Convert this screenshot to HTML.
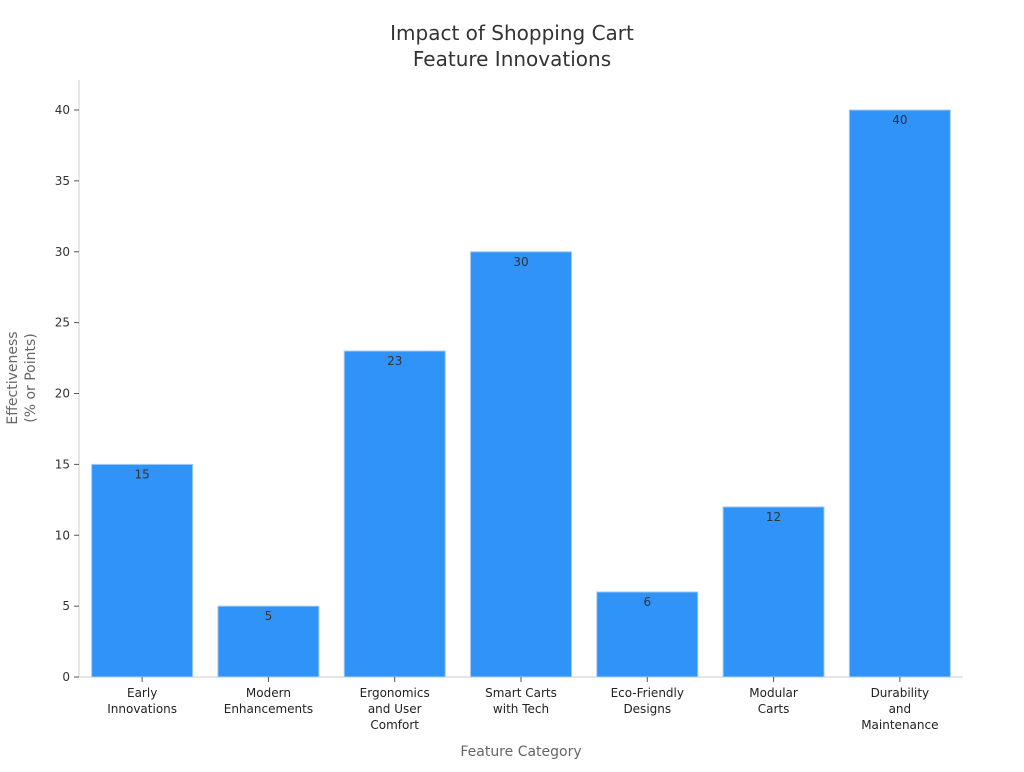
<!DOCTYPE html>
<html><head><meta charset="utf-8"><style>
body{margin:0;background:#fff;font-family:"DejaVu Sans","Liberation Sans",sans-serif;}
svg text{font-family:"DejaVu Sans","Liberation Sans",sans-serif;}
</style></head><body>
<svg id="chart" width="1024" height="768" xmlns="http://www.w3.org/2000/svg">
<text x="512" y="40" text-anchor="middle" font-size="20" fill="#333">Impact of Shopping Cart</text>
<text x="512" y="66" text-anchor="middle" font-size="20" fill="#333">Feature Innovations</text>
<text transform="translate(17,378) rotate(-90)" text-anchor="middle" font-size="14" fill="#666">Effectiveness</text>
<text transform="translate(35,378) rotate(-90)" text-anchor="middle" font-size="14" fill="#666">(% or Points)</text>
<text x="521" y="756" text-anchor="middle" font-size="14" fill="#666">Feature Category</text>
<g id="plot"></g>
</svg>
<script>
const categories=[["Early","Innovations"],["Modern","Enhancements"],["Ergonomics","and User","Comfort"],["Smart Carts","with Tech"],["Eco-Friendly","Designs"],["Modular","Carts"],["Durability","and","Maintenance"]];
const values=[15,5,23,30,6,12,40];
const yTicks=[0,5,10,15,20,25,30,35,40];
const L=79,R=963,T=80,B=677,yMax=40,yTop=110;
const y=v=>B-(B-yTop)*v/yMax;
const band=(R-L)/categories.length;
const x=i=>L+band*i+band/2;
const ns="http://www.w3.org/2000/svg";
const g=document.getElementById('plot');
function el(t,a,txt){const e=document.createElementNS(ns,t);for(const k in a)e.setAttribute(k,a[k]);if(txt!==undefined)e.textContent=txt;g.appendChild(e);return e;}
let ax=el('line',{x1:L,y1:T,x2:L,y2:B,stroke:'#ccc'});


let bx=el('line',{x1:L,y1:B,x2:R,y2:B,stroke:'#ccc'});


yTicks.forEach(v=>{
 let tk=el('line',{x1:L-5,y1:y(v),x2:L,y2:y(v),stroke:'#555'});
 
 
 let t=el('text',{x:L-9,y:y(v)+4,'text-anchor':'end','font-size':12,fill:'#333'},v);
 
 
});
const bw=band*0.8;
values.forEach((v,i)=>{
 let r=el('rect',{x:x(i)-bw/2,y:y(v),width:bw,height:B-y(v),fill:'#2f93f8',stroke:'#a8cdf3','stroke-width':1});
 
 
 let t=el('text',{x:x(i),y:y(v)+14,'text-anchor':'middle','font-size':12,fill:'#333'},v);
 
 
 let tk=el('line',{x1:x(i),y1:B,x2:x(i),y2:B+5,stroke:'#555'});
 
 
 categories[i].forEach((line,j)=>{
  let c=el('text',{x:x(i),y:B+20+j*16,'text-anchor':'middle','font-size':12,fill:'#222'},line);
  
  
 });
});
</script>
</body></html>
